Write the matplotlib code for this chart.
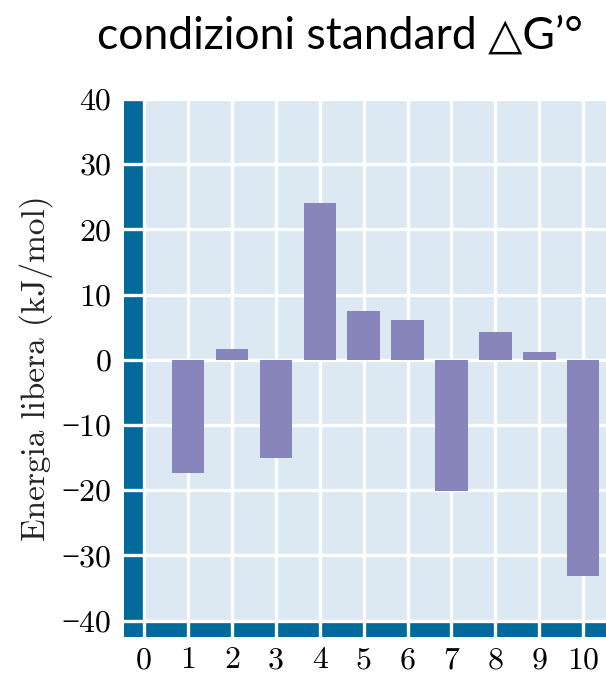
import matplotlib
matplotlib.use("Agg")
import matplotlib.pyplot as plt

# glycolysis steps and standard free energy changes (kJ/mol)
steps = [1, 2, 3, 4, 5, 6, 7, 8, 9, 10]
delta_g = [-17.3, 1.7, -15.0, 24.1, 7.5, 6.1, -20.1, 4.3, 1.2, -33.1]
yticks = [40, 30, 20, 10, 0, -10, -20, -30, -40]
xticks = [0, 1, 2, 3, 4, 5, 6, 7, 8, 9, 10]

dark = "#006b9a"
light = "#dce9f2"
bar_color = "#8785bb"
tick_font = ["cmr10", "Liberation Serif", "DejaVu Serif"]

fig = plt.figure(figsize=(6.06, 6.76), dpi=100)
ax = fig.add_axes([124 / 606, 1 - 637 / 676, 482 / 606, (637 - 99) / 676])
ax.set_facecolor(light)

xmin, xmax = -0.46, 10.52
ymin, ymax = -42.5, 40
ax.set_xlim(xmin, xmax)
ax.set_ylim(ymin, ymax)

ax.axvspan(xmin, 0, color=dark, lw=0, zorder=0.5)
ax.axhspan(ymin, -40, color=dark, lw=0, zorder=0.5)

for x in xticks:
    ax.axvline(x, color="white", lw=2.4, zorder=1)
for y in yticks:
    ax.axhline(y, color="white", lw=2.4, zorder=1)

ax.bar(steps, delta_g, width=0.74, color=bar_color, zorder=3)

ax.set_xticks(xticks)
ax.set_xticklabels([str(x) for x in xticks], family=tick_font, fontsize=23)
ax.set_yticks(yticks)
ax.set_yticklabels([str(y).replace("-", "\u2212") for y in yticks],
                   family=tick_font, fontsize=23)
ax.tick_params(axis="y", length=0, pad=9)
ax.tick_params(axis="x", length=0, pad=7)
for s in ax.spines.values():
    s.set_visible(False)

ax.set_ylabel("Energia libera (kJ/mol)", family=tick_font, fontsize=24,
              color="#222222", labelpad=6)

fig.text(0.561, 0.947, "condizioni standard \u25b3G\u2019\u00b0",
         family=["Lato", "DejaVu Sans"], fontsize=32, ha="center", va="center")

fig.savefig("out.png", dpi=100)
